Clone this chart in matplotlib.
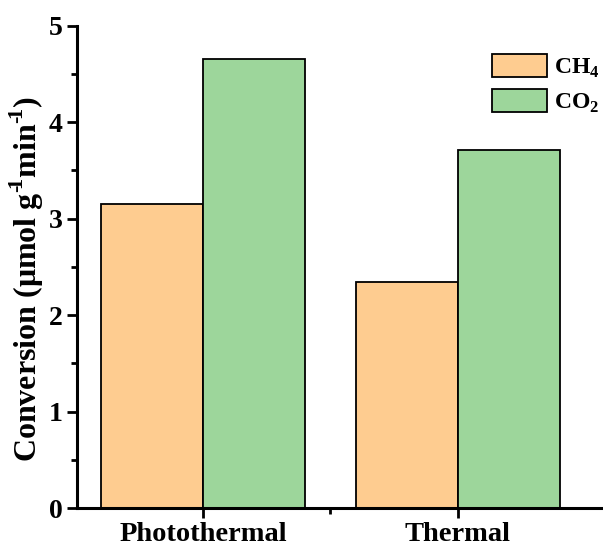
import matplotlib
matplotlib.use('Agg')
import matplotlib.pyplot as plt
import numpy as np
from matplotlib.ticker import MultipleLocator, FixedLocator

plt.rcParams['font.family'] = ['Liberation Serif', 'DejaVu Serif']
plt.rcParams['font.weight'] = 'bold'
plt.rcParams['mathtext.fontset'] = 'custom'
plt.rcParams['mathtext.rm'] = 'Liberation Serif:bold'
plt.rcParams['mathtext.bf'] = 'Liberation Serif:bold'

# conversion rates, umol g^-1 min^-1
conditions = ['Photothermal', 'Thermal']
ch4 = [3.15, 2.34]
co2 = [4.65, 3.71]

c_ch4 = '#fecc90'
c_co2 = '#9dd69b'

fig = plt.figure(figsize=(6.03, 5.47), dpi=100)
ax = fig.add_axes([0.128, 0.071, 0.872, 0.882])

x = np.arange(len(conditions))
w = 0.4
ax.bar(x - w/2, ch4, w, color=c_ch4, edgecolor='black', linewidth=1.3, label='CH$_4$')
ax.bar(x + w/2, co2, w, color=c_co2, edgecolor='black', linewidth=1.3, label='CO$_2$')

ax.set_xlim(-0.494, 1.57)
ax.set_ylim(0, 5)
ax.set_xticks(x)
ax.set_xticklabels(conditions, fontsize=20.5, fontweight='bold')
ax.xaxis.set_minor_locator(FixedLocator([0.5]))
ax.yaxis.set_major_locator(MultipleLocator(1))
ax.yaxis.set_minor_locator(MultipleLocator(0.5))
ax.tick_params(axis='y', which='major', labelsize=20, length=7, width=2, direction='out')
ax.tick_params(axis='x', which='major', length=7, width=2, direction='out', pad=3)
ax.tick_params(which='minor', length=4, width=2, direction='out')
for lbl in ax.get_yticklabels():
    lbl.set_fontweight('bold')

for s in ['top', 'right']:
    ax.spines[s].set_visible(False)
for s in ['left', 'bottom']:
    ax.spines[s].set_linewidth(2.2)

ax.set_ylabel('Conversion (μmol g$^{\u2010\\!1}$min$^{\u2010\\!1}$)', fontsize=23,
              fontweight='bold')
ax.yaxis.set_label_coords(-0.06, 0.475)

leg = ax.legend(loc='upper right', bbox_to_anchor=(1.035, 0.985), frameon=False, fontsize=17,
                handlelength=2.35, handleheight=1.1, handletextpad=0.3, labelspacing=0.4)
for t in leg.get_texts():
    t.set_fontweight('bold')

fig.savefig('out.png', dpi=100)
